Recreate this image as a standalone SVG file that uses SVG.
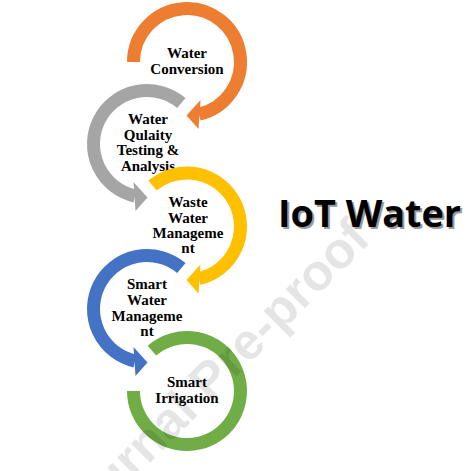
<svg xmlns="http://www.w3.org/2000/svg" width="474" height="471" viewBox="0 0 474 471">
<style>
.ring{fill:none;stroke-width:13;stroke-linecap:butt}
.lbl{font-family:"Liberation Serif","Times New Roman",serif;font-weight:bold;font-size:15px;fill:#000;text-anchor:middle}
.title{font-family:"Open Sans","Liberation Sans",sans-serif;font-weight:bold;font-size:37px}
</style>
<defs>
<g id="arrowShape">
<path d="M -34.39 -40.98 A 53.5 53.5 0 1 1 12.03 52.13" class="ring"/>
<polygon points="13.5,38 11.5,67 -0.5,53.5" stroke="none"/>
</g>
</defs>
<rect width="474" height="471" fill="#fff"/>
<g id="connectors"/>
<g id="n1">
<g transform="translate(187,62)" stroke="#ED7D31" fill="#ED7D31">
<path d="M -53.5 0 A 53.5 53.5 0 1 1 12.03 52.13" class="ring"/>
<polygon points="13.5,38 11.5,67 -0.5,53.5" stroke="none"/>
</g>
<text class="lbl" x="187" y="58">Water</text>
<text class="lbl" x="187" y="74">Conversion</text>
</g>
<g id="n2">
<use href="#arrowShape" transform="translate(147,144) scale(-1,1)" stroke="#A5A5A5" fill="#A5A5A5"/>
<text class="lbl" x="148" y="124">Water</text>
<text class="lbl" x="148" y="139.7">Qulaity</text>
<text class="lbl" x="148" y="155.4">Testing &amp;</text>
<text class="lbl" x="148" y="171">Analysis</text>
</g>
<g id="n3">
<use href="#arrowShape" transform="translate(187,226.5)" stroke="#FFC000" fill="#FFC000"/>
<text class="lbl" x="188" y="207">Waste</text>
<text class="lbl" x="188" y="222.5">Water</text>
<text class="lbl" x="188" y="238">Manageme</text>
<text class="lbl" x="188" y="253">nt</text>
</g>
<g id="n4">
<use href="#arrowShape" transform="translate(147,309) scale(-1,1)" stroke="#4472C4" fill="#4472C4"/>
<text class="lbl" x="147" y="289">Smart</text>
<text class="lbl" x="147" y="305">Water</text>
<text class="lbl" x="147" y="320.7">Manageme</text>
<text class="lbl" x="147" y="336">nt</text>
</g>
<g id="n5">
<path transform="translate(187,391)" d="M -35.1 -40.38 A 53.5 53.5 0 1 1 -53.5 0" class="ring" stroke="#70AD47"/>
<text class="lbl" x="187" y="387">Smart</text>
<text class="lbl" x="187" y="402.5">Irrigation</text>
</g>
<g id="title">
<text class="title" x="280" y="229" fill="#9a9a9a" textLength="183" lengthAdjust="spacingAndGlyphs">IoT Water</text>
<text class="title" x="278" y="227" fill="#000" textLength="183" lengthAdjust="spacingAndGlyphs">IoT Water</text>
</g>
<text x="221" y="392" transform="rotate(-45 221 392)" font-family="Liberation Sans, Arial, sans-serif" font-weight="bold" font-size="51" text-anchor="middle" fill="#000" fill-opacity="0.1">Journal Pre-proof</text>
</svg>
